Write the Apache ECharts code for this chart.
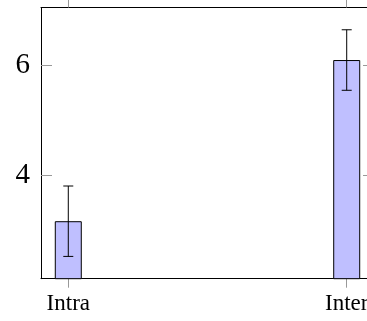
<!DOCTYPE html>
<html>
<head>
<meta charset="utf-8">
<script src="https://cdn.jsdelivr.net/npm/echarts@6/dist/echarts.min.js"></script>
<style>
  html, body { margin: 0; padding: 0; background: #fff; overflow: hidden; }
  #chart { width: 390px; height: 321px; }
</style>
</head>
<body>
<div id="chart"></div>
<script>
var categories = ['Intra', 'Inter'];
var means = [3.16, 6.09];
var errors = [0.64, 0.55];
var yTicks = [4, 6];

var chart = echarts.init(document.getElementById('chart'));

var barData = [];
var errData = [];
for (var i = 0; i < categories.length; i++) {
    barData.push([i, means[i]]);
    errData.push([i, means[i] - errors[i], means[i] + errors[i]]);
}
var xTickValues = categories.map(function (c, i) { return i; });

var serif = '"Liberation Serif", "Times New Roman", serif';

// plot frame runs past the right edge of the window (374px), so the div is wider
var option = {
    animation: false,
    grid: { left: 41, top: 7.5, width: 333, bottom: 42.3 },
    xAxis: [
        {
            type: 'value', position: 'bottom',
            min: -0.098, max: 1.098,
            axisLine: { show: true, lineStyle: { color: '#000', width: 1 } },
            axisTick: { show: true, inside: false, length: 9, customValues: xTickValues,
                        lineStyle: { color: '#999', width: 1 } },
            axisLabel: { customValues: xTickValues, margin: 14,
                         fontFamily: serif, fontSize: 23, color: '#000',
                         formatter: function (v) { return categories[Math.round(v)]; } },
            splitLine: { show: false }
        },
        {
            type: 'value', position: 'top',
            min: -0.098, max: 1.098,
            axisLine: { show: true, onZero: false, lineStyle: { color: '#000', width: 1 } },
            axisTick: { show: true, inside: false, length: 9, customValues: xTickValues,
                        lineStyle: { color: '#999', width: 1 } },
            axisLabel: { show: false },
            splitLine: { show: false }
        }
    ],
    yAxis: [
        {
            type: 'value', position: 'left',
            min: 2.115, max: 7.045,
            axisLine: { show: true, onZero: false, lineStyle: { color: '#000', width: 1 } },
            axisTick: { show: true, inside: true, length: 11, customValues: yTicks,
                        lineStyle: { color: '#999', width: 1 } },
            axisLabel: { customValues: yTicks, margin: 11,
                         fontFamily: serif, fontSize: 29, color: '#000' },
            splitLine: { show: false }
        },
        {
            type: 'value', position: 'right',
            min: 2.115, max: 7.045,
            axisLine: { show: true, onZero: false, lineStyle: { color: '#000', width: 1 } },
            axisTick: { show: true, inside: true, length: 11, customValues: yTicks,
                        lineStyle: { color: '#999', width: 1 } },
            axisLabel: { show: false },
            splitLine: { show: false }
        }
    ],
    series: [
        {
            type: 'bar',
            data: barData,
            barWidth: 27,
            itemStyle: { color: '#bfbfff', borderColor: '#000', borderWidth: 1 }
        },
        {
            type: 'custom',
            data: errData,
            z: 5,
            renderItem: function (params, api) {
                var x = api.value(0);
                var lo = api.coord([x, api.value(1)]);
                var hi = api.coord([x, api.value(2)]);
                var half = 5;
                var style = { stroke: '#000', lineWidth: 1 };
                return {
                    type: 'group',
                    children: [
                        { type: 'line', shape: { x1: hi[0], y1: hi[1], x2: lo[0], y2: lo[1] }, style: style },
                        { type: 'line', shape: { x1: hi[0] - half, y1: hi[1], x2: hi[0] + half, y2: hi[1] }, style: style },
                        { type: 'line', shape: { x1: lo[0] - half, y1: lo[1], x2: lo[0] + half, y2: lo[1] }, style: style }
                    ]
                };
            }
        }
    ]
};

chart.setOption(option);
</script>
</body>
</html>
